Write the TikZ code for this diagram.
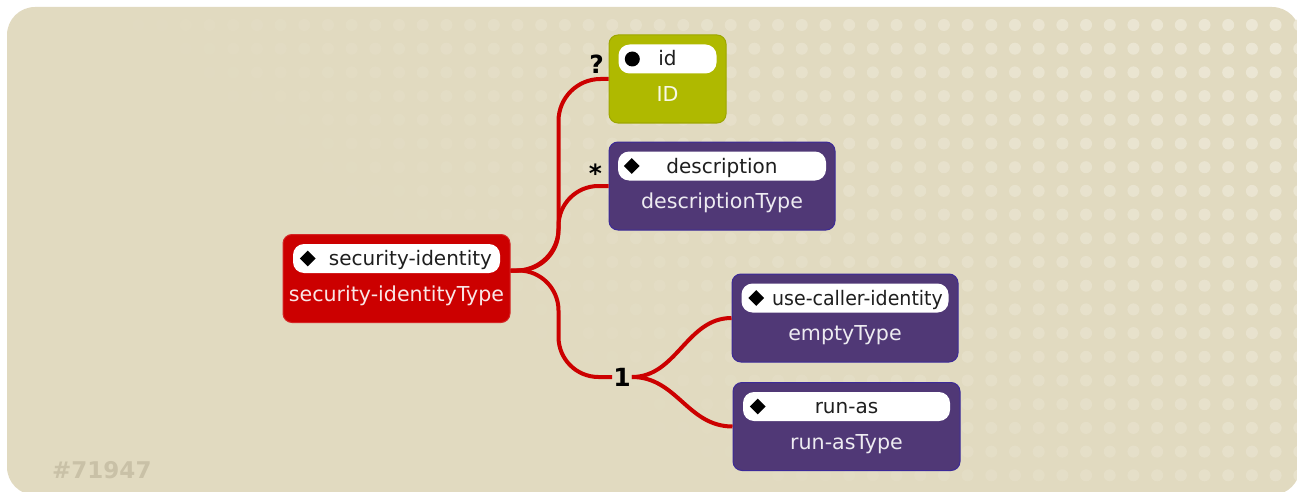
\documentclass[tikz,border=0pt]{standalone}
\usepackage{fontspec}
\setmainfont{DejaVu Sans}
\usepackage{xcolor}
\definecolor{Col1}{RGB}{204,0,0}
\definecolor{Col2}{RGB}{80,56,118}
\definecolor{Col3}{RGB}{175,185,0}
\definecolor{Col4}{RGB}{225,218,192}
\definecolor{Col5}{RGB}{236,231,213}
\definecolor{Col6}{RGB}{201,193,167}
\definecolor{Col7}{RGB}{30,30,30}
\usepackage{tikz}
\usetikzlibrary{shapes.geometric}
\tikzstyle{Box}=[rectangle,rounded corners=9pt,inner sep=0pt,minimum height=88pt,line width=1pt]
\tikzstyle{BoxRed}=[Box,fill=Col1,draw=Col1!85!white]
\tikzstyle{BoxGreen}=[Box,fill=Col3,draw=Col3!90!black]
\tikzstyle{BoxPurple}=[Box,fill=Col2,draw=Col2!75!blue]
\tikzstyle{Tag}=[rectangle,rounded corners=11pt,fill=white,inner sep=0pt,minimum height=29pt,
text=Col7,font=\fontsize{20}{20}\selectfont,text height=16pt,text depth=2pt]
\tikzstyle{TypeName}=[anchor=base,inner sep=0pt,text=white,text opacity=0.9,font=\fontsize{20.6}{21}\selectfont]
\tikzstyle{Diam}=[diamond,fill=black,inner sep=0pt,minimum size=16pt]
\tikzstyle{Bullet}=[circle,fill=black,inner sep=0pt,minimum size=15pt]
\tikzstyle{Edge}=[draw=Col1,line width=4pt]
\tikzstyle{Mult}=[font=\bfseries\fontsize{25}{25}\selectfont,inner sep=1pt,text=black]
\tikzstyle{Stamp}=[font=\bfseries\fontsize{23}{23}\selectfont,text=Col6,anchor=base west,inner sep=0pt]

\begin{document}
\begin{tikzpicture}[x=1pt,y=-1pt]
    \useasboundingbox(0,0)rectangle(1297,492);
    \clip(0,0)rectangle(1297,492);
    \fill[Col4,rounded corners=28pt](7,7)rectangle(1300,495);
    \foreach \i in {0,...,54}{
        \foreach \j in {0,...,19}{
            \pgfmathsetmacro\op{max(0,min(1,-0.05+1.1*\i/54-0.5*\j/19))}
            \fill[Col5,opacity=\op](20+23.69*\i,25+23.7*\j)circle(6);
        }
    }
    \node[BoxRed,minimum width=227pt](root)at(396.5,278.5){};
    \node[BoxGreen,minimum width=117pt](id)at(667.5,79){};
    \node[BoxPurple,minimum width=226pt](desc)at(722,186){};
    \node[BoxPurple,minimum width=226pt](use)at(845,318){};
    \node[BoxPurple,minimum width=227pt](runas)at(846.5,426.5){};
    \node[Tag,minimum width=207pt](root-tag)at([yshift=-24.5pt]root.north){\hspace*{28pt}security-identity};
    \node[Tag,minimum width=98pt](id-tag)at([yshift=-24.5pt]id.north){id};
    \node[Tag,minimum width=208pt](desc-tag)at([yshift=-24.5pt]desc.north){description};
    \node[Tag,minimum width=207pt](use-tag)at([yshift=-24.5pt]use.north){\hspace*{25pt}\scalebox{0.95}[1]{use-caller-identity}};
    \node[Tag,minimum width=207pt](runas-tag)at([yshift=-24.5pt]runas.north){run-as};
    \node[Diam](root-mark)at([xshift=15pt]root-tag.west){};
    \node[Bullet](id-mark)at([xshift=14pt]id-tag.west){};
    \node[Diam](desc-mark)at([xshift=14pt]desc-tag.west){};
    \node[Diam](use-mark)at([xshift=15pt]use-tag.west){};
    \node[Diam](runas-mark)at([xshift=15pt]runas-tag.west){};
    \node[TypeName](root-type)at([yshift=-67pt]root.north){security-identityType};
    \node[TypeName](id-type)at([yshift=-67pt]id.north){ID};
    \node[TypeName](desc-type)at([yshift=-67pt]desc.north){descriptionType};
    \node[TypeName](use-type)at([yshift=-67pt]use.north){emptyType};
    \node[TypeName](runas-type)at([yshift=-67pt]runas.north){run-asType};
    \node[Mult](q)at([xshift=-12pt,yshift=15pt]id.west){?};
    \node[Mult](s)at([xshift=-13pt,yshift=13pt]desc.west){*};
    \node[Mult](one)at(622,377){1};
    \draw[Edge,rounded corners=42pt]([yshift=8pt]root.east)--++(48,0)|-(id.west);
    \draw[Edge,rounded corners=40pt]([yshift=8pt]root.east)--++(48,0)|-(desc.west);
    \draw[Edge,rounded corners=40pt]([yshift=8pt]root.east)--++(48,0)|-(one.west);
    \draw[Edge](one.east)..controls+(45,0)and+(-45,0)..(use.west);
    \draw[Edge](one.east)..controls+(45,0)and+(-45,0)..(runas.west);
    \node[Stamp](stamp)at(52,478){\#71947};
\end{tikzpicture}
\end{document}
